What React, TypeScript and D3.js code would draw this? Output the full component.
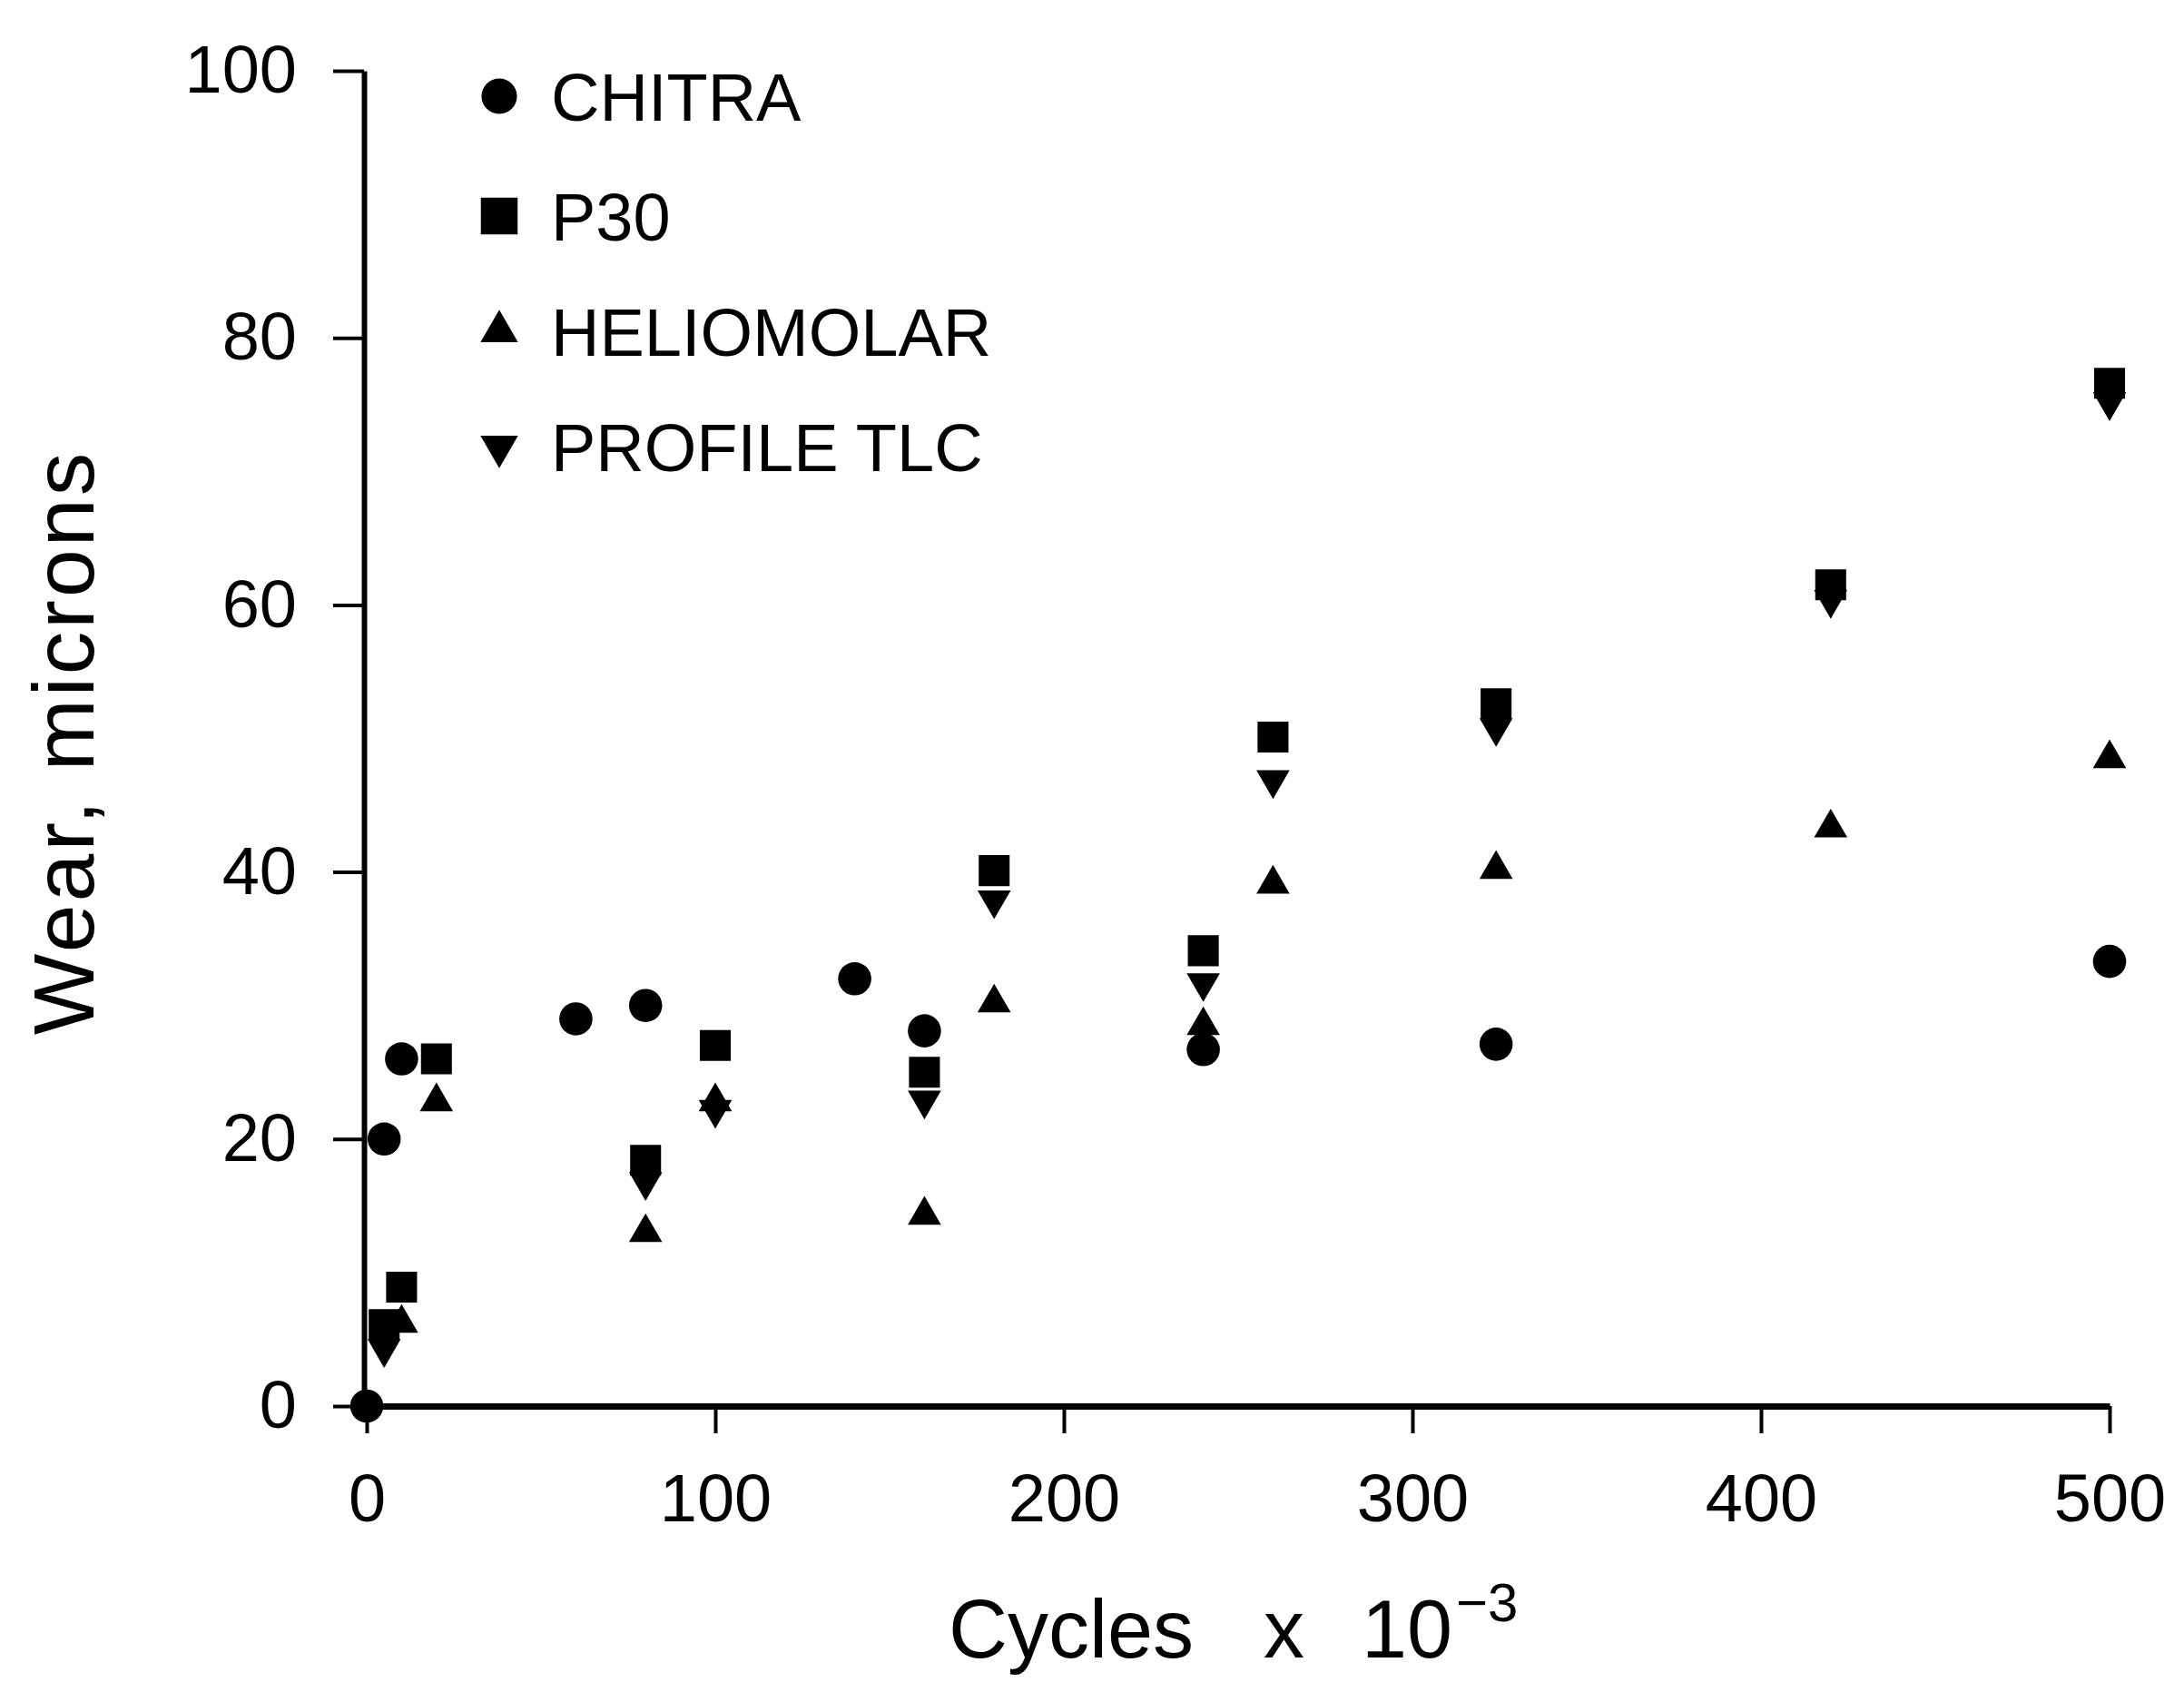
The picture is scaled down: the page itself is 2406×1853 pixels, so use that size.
import React, { useEffect, useRef } from "react";
import * as d3 from "d3";

// wear data (cycles x 10^-3, microns)
const seriesNames = ["CHITRA", "P30", "HELIOMOLAR", "PROFILE TLC"];

const chitraX = [0, 5, 10, 60, 80, 140, 160, 240, 324, 500];
const chitraY = [0, 20, 26, 29, 30, 32, 28.1, 26.7, 27.1, 33.3];

const p30X = [5, 10, 20, 80, 100, 160, 180, 240, 260, 324, 420, 500];
const p30Y = [6.1, 8.9, 26, 18.4, 27, 25, 40.1, 34.1, 50.1, 52.6, 61.5, 76.6];

const helioX = [10, 20, 80, 100, 160, 180, 240, 260, 324, 420, 500];
const helioY = [6.2, 22.8, 13, 22.8, 14.3, 30.2, 28.5, 39.1, 40.2, 43.3, 48.5];

const tlcX = [5, 80, 100, 160, 180, 240, 260, 324, 420, 500];
const tlcY = [4.3, 16.8, 22.2, 22.9, 37.9, 31.7, 46.9, 50.8, 60.4, 75.2];

const xTicks = [0, 100, 200, 300, 400, 500];
const yTicks = [0, 20, 40, 60, 80, 100];

const App = () => {
  const svgRef = useRef(null);

  useEffect(() => {
    const svg = d3.select(svgRef.current);
    svg.selectAll("*").remove();

    const width = 2406;
    const height = 1853;
    svg.attr("width", width).attr("height", height);

    const font = "'Liberation Sans', Arial, Helvetica, sans-serif";

    const xScale = d3.scaleLinear().domain([0, 500]).range([404, 2324]);
    const yScale = d3.scaleLinear().domain([0, 100]).range([1549, 78]);

    const xAxis = d3.axisBottom(xScale).tickValues(xTicks).tickSize(30).tickSizeOuter(0).tickPadding(44);
    const yAxis = d3.axisLeft(yScale).tickValues(yTicks).tickSize(34).tickSizeOuter(0).tickPadding(40);

    const gx = svg.append("g").attr("transform", `translate(0, ${yScale(0)})`).call(xAxis);
    gx.select(".domain").attr("stroke", "#000").attr("stroke-width", 7);
    gx.selectAll(".tick line").attr("stroke", "#000").attr("stroke-width", 4);
    gx.selectAll(".tick text")
      .attr("fill", "#000")
      .style("font-family", font)
      .style("font-size", "74px");

    const gy = svg.append("g").attr("transform", `translate(${xScale(0) - 3}, 0)`).call(yAxis);
    gy.select(".domain").attr("stroke", "#000").attr("stroke-width", 6);
    gy.selectAll(".tick line").attr("stroke", "#000").attr("stroke-width", 4);
    gy.selectAll(".tick text")
      .attr("fill", "#000")
      .style("font-family", font)
      .style("font-size", "74px");

    // markers
    const circle = d3.symbol().type(d3.symbolCircle).size(1050);
    const square = d3.symbol().type(d3.symbolSquare).size(1160);
    const tri = d3.symbol().type(d3.symbolTriangle).size(580);

    const toPts = (xs, ys) => xs.map((x, i) => ({ x: x, y: ys[i] }));

    const plot = svg.append("g");

    plot.selectAll(".p30").data(toPts(p30X, p30Y)).join("path").attr("class", "p30")
      .attr("d", square())
      .attr("transform", d => `translate(${xScale(d.x)}, ${yScale(d.y)})`)
      .attr("fill", "#000");

    plot.selectAll(".helio").data(toPts(helioX, helioY)).join("path").attr("class", "helio")
      .attr("d", tri())
      .attr("transform", d => `translate(${xScale(d.x)}, ${yScale(d.y)})`)
      .attr("fill", "#000");

    plot.selectAll(".tlc").data(toPts(tlcX, tlcY)).join("path").attr("class", "tlc")
      .attr("d", tri())
      .attr("transform", d => `translate(${xScale(d.x)}, ${yScale(d.y)}) rotate(180)`)
      .attr("fill", "#000");

    plot.selectAll(".chitra").data(toPts(chitraX, chitraY)).join("path").attr("class", "chitra")
      .attr("d", circle())
      .attr("transform", d => `translate(${xScale(d.x)}, ${yScale(d.y)})`)
      .attr("fill", "#000");

    // legend
    const legendX = 550;
    const legendRows = [106, 238, 365, 492];
    const legendShapes = [
      { d: d3.symbol().type(d3.symbolCircle).size(1200)(), rot: 0 },
      { d: d3.symbol().type(d3.symbolSquare).size(1640)(), rot: 0 },
      { d: d3.symbol().type(d3.symbolTriangle).size(740)(), rot: 0 },
      { d: d3.symbol().type(d3.symbolTriangle).size(740)(), rot: 180 },
    ];
    seriesNames.forEach((name, i) => {
      svg.append("path")
        .attr("d", legendShapes[i].d)
        .attr("transform", `translate(${legendX}, ${legendRows[i]}) rotate(${legendShapes[i].rot})`)
        .attr("fill", "#000");
      svg.append("text")
        .attr("x", legendX + 57)
        .attr("y", legendRows[i])
        .attr("dy", "0.36em")
        .style("font-family", font)
        .style("font-size", "74px")
        .text(name);
    });

    // axis titles
    svg.append("text")
      .attr("transform", "translate(103, 818) rotate(-90)")
      .style("text-anchor", "middle")
      .style("font-family", font)
      .style("font-size", "95px")
      .style("letter-spacing", "3px")
      .text("Wear, microns");

    const xl = svg.append("text")
      .attr("y", 1826)
      .style("font-family", font)
      .style("font-size", "90px");
    xl.append("tspan").attr("x", 1045).text("Cycles");
    xl.append("tspan").attr("x", 1392).text("x");
    xl.append("tspan").attr("x", 1500).text("10");
    xl.append("tspan").attr("x", 1604).attr("y", 1786).style("font-size", "60px").text("\u22123");
  }, []);

  return (
    <svg ref={svgRef} style={{ position: "absolute", left: 0, top: 0, background: "#fff" }}></svg>
  );
};

export default App;
